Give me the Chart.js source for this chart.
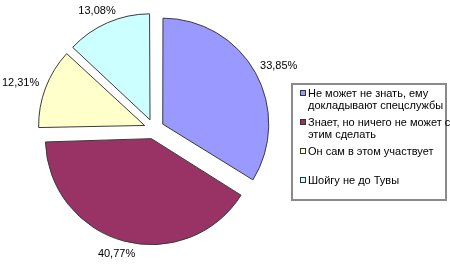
<!DOCTYPE html>
<html><head><meta charset="utf-8">
<script src="https://cdn.jsdelivr.net/npm/chart.js@4.4.0/dist/chart.umd.min.js"></script>
<style>
html,body{margin:0;padding:0;background:#fff;width:450px;height:267px;overflow:hidden;}
#wrap{position:relative;width:450px;height:267px;}
canvas{position:absolute;left:0;top:0;}
#legend{position:absolute;left:291px;top:83px;width:152px;height:114px;border:2px solid #8a8a8a;font:11px "Liberation Sans",Arial,sans-serif;color:#000;}
.item{position:absolute;left:7px;display:flex;align-items:flex-start;}
.sw{width:4px;height:4px;border:1px solid #333;margin-top:3px;margin-right:2px;flex:none;}
.txt{width:143px;line-height:12px;}
</style>
</head><body>
<div id="wrap">
<canvas id="c" width="450" height="267"></canvas>
<div id="legend"></div>
</div>
<script>
const categories = [
  'Не может не знать, ему докладывают спецслужбы',
  'Знает, но ничего не может с этим сделать',
  'Он сам в этом участвует',
  'Шойгу не до Тувы'
];
const values = [33.85, 40.77, 12.31, 13.08];
const colors = ['#9999FF', '#993366', '#FFFFCC', '#CCFFFF'];

const RADIUS = 106;
const EXPLODE = 10;     // visual translation in px
const GAP = 8;

function fmt(v){ return v.toFixed(2).replace('.', ',') + '%'; }

// legend
const leg = document.getElementById('legend');
categories.forEach((c, i) => {
  const it = document.createElement('div');
  it.className = 'item';
  it.style.top = (2 + i * 29) + 'px';
  const sw = document.createElement('div');
  sw.className = 'sw';
  sw.style.background = colors[i];
  const tx = document.createElement('div');
  tx.className = 'txt';
  tx.textContent = c;
  it.appendChild(sw); it.appendChild(tx);
  leg.appendChild(it);
});

const radiusFix = {
  id: 'radiusFix',
  beforeDatasetsDraw(chart) {
    const meta = chart.getDatasetMeta(0);
    meta.data.forEach(arc => {
      const shift = (arc.options.offset || 0) / 4;
      const circ = arc.endAngle - arc.startAngle;
      const fix = 1 - Math.sin(Math.min(Math.PI, circ));
      arc.outerRadius = RADIUS - shift * fix;
    });
  }
};

const labelPlugin = {
  id: 'pieLabels',
  afterDatasetsDraw(chart) {
    const ctx = chart.ctx;
    const meta = chart.getDatasetMeta(0);
    ctx.save();
    ctx.font = '11px "Liberation Sans", Arial, sans-serif';
    ctx.fillStyle = '#000';
    ctx.textAlign = 'center';
    ctx.textBaseline = 'middle';
    meta.data.forEach((arc, i) => {
      const mid = (arc.startAngle + arc.endAngle) / 2;
      const dx = Math.cos(mid), dy = Math.sin(mid);
      const shift = (arc.options.offset || 0) / 4;
      const txt = fmt(values[i]);
      const w = ctx.measureText(txt).width, h = 10;
      const r = RADIUS + shift + GAP;
      ctx.fillText(txt, arc.x + dx * r + dx * w / 2, arc.y + dy * r + dy * h / 2);
    });
    ctx.restore();
  }
};

new Chart(document.getElementById('c'), {
  type: 'pie',
  data: {
    labels: categories,
    datasets: [{
      data: values,
      backgroundColor: colors,
      borderColor: '#3a3a3a',
      borderWidth: 1,
      offset: EXPLODE * 4,
      radius: RADIUS
    }]
  },
  options: {
    responsive: false,
    animation: false,
    layout: { padding: { left: 0, right: 142, top: 0, bottom: 9 } },
    plugins: { legend: { display: false }, tooltip: { enabled: false } }
  },
  plugins: [radiusFix, labelPlugin]
});
</script>
</body></html>
